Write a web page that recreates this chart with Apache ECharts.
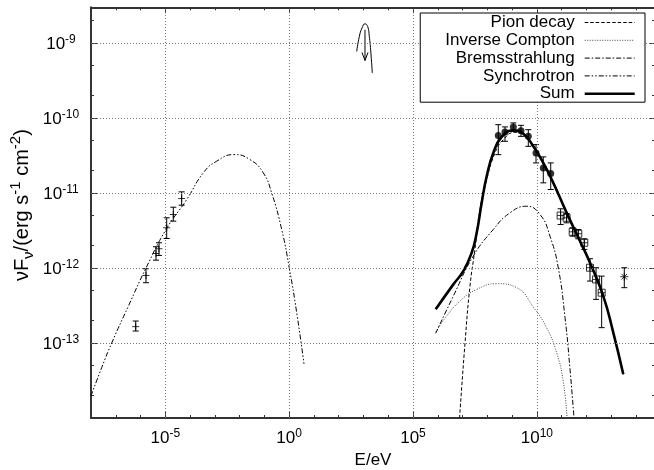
<!DOCTYPE html>
<html><head><meta charset="utf-8">
<script src="https://cdn.jsdelivr.net/npm/echarts@6/dist/echarts.min.js"></script>
<style>html,body{margin:0;padding:0;background:#fff}#c{width:654px;height:470px}</style>
</head><body><div id="c"></div>
<script>
// All values are log10 (E in eV, nuFnu in erg s^-1 cm^-2)
var synLogE = [-8.0, -7.568, -7.164, -6.49, -5.78, -4.97, -4.136, -3.466, -2.93, -2.227, -1.581, -1.044, -0.705, -0.301, 0.006, 0.305, 0.6];
var synLogF = [-13.706, -13.328, -13.0, -12.507, -12.0, -11.486, -11.087, -10.731, -10.576, -10.487, -10.554, -10.731, -11.0, -11.486, -12.0, -12.595, -13.28];

var sumLogE = [5.916, 6.628, 7.03, 7.369, 7.571, 7.773, 7.975, 8.241, 8.58, 9.05, 9.453, 9.857, 10.26, 10.664, 11.205, 11.742, 12.145, 12.683, 13.086, 13.49];
var sumLogF = [-12.551, -12.218, -12.041, -11.796, -11.53, -11.13, -10.776, -10.465, -10.252, -10.164, -10.208, -10.377, -10.598, -10.864, -11.264, -11.642, -11.929, -12.374, -12.861, -13.417];

var pionLogE = [6.88, 7.1, 7.3, 7.5, 7.705, 7.975, 8.31, 8.645, 9.118, 9.453, 9.857, 10.26, 10.664, 11.205, 11.742, 12.145, 12.683, 13.086, 13.49];
var pionLogF = [-14.0, -13.0, -12.24, -11.75, -11.22, -10.82, -10.465, -10.288, -10.19, -10.225, -10.39, -10.61, -10.874, -11.27, -11.645, -11.93, -12.375, -12.862, -13.418];

var icLogE = [5.916, 6.36, 6.897, 7.571, 8.38, 9.186, 9.857, 10.4, 10.8, 11.07, 11.22];
var icLogF = [-12.853, -12.64, -12.44, -12.285, -12.209, -12.262, -12.52, -12.8, -13.13, -13.52, -14.0];

var bremLogE = [5.916, 6.628, 7.435, 8.241, 8.915, 9.585, 10.127, 10.53, 10.866, 11.137, 11.339, 11.5];
var bremLogF = [-12.871, -12.374, -11.84, -11.486, -11.264, -11.176, -11.286, -11.575, -12.0, -12.66, -13.35, -14.0];

// upper-limit bow (curve) and downward arrow
var bowLogE = [2.727, 2.833, 2.94, 3.062, 3.17, 3.236, 3.29, 3.357];
var bowLogF = [-9.112, -8.912, -8.8, -8.743, -8.779, -8.912, -9.09, -9.4];
var arrowLogE = [3.062];
var arrowTopLogF = [-8.823];
var arrowTipLogF = [-9.232];

// measured points: value, lower, upper
var radioLogE = [-6.195, -5.78, -5.376, -5.255, -4.944, -4.677, -4.34];
var radioLogF = [-12.782, -12.099, -11.806, -11.743, -11.463, -11.286, -11.073];
var radioLo   = [-12.84, -12.196, -11.895, -11.832, -11.606, -11.375, -11.162];
var radioHi   = [-12.707, -12.009, -11.716, -11.663, -11.33, -11.189, -10.984];

var fermiLogE = [8.443, 8.713, 9.05, 9.36, 9.655, 9.966, 10.26, 10.56];
var fermiLogF = [-10.234, -10.185, -10.118, -10.168, -10.244, -10.465, -10.665, -10.74];
var fermiLo   = [-10.488, -10.31, -10.177, -10.244, -10.377, -10.598, -10.864, -10.953];
var fermiHi   = [-10.088, -10.118, -10.065, -10.097, -10.155, -10.354, -10.518, -10.598];

var hessLogE = [10.96, 11.2, 11.447, 11.673, 11.915, 12.145, 12.39, 12.617];
var hessLogF = [-11.3, -11.33, -11.517, -11.543, -11.663, -11.996, -12.152, -12.329];
var hessLo   = [-11.42, -11.397, -11.575, -11.61, -11.752, -12.174, -12.418, -12.795];
var hessHi   = [-11.21, -11.273, -11.463, -11.486, -11.61, -11.876, -11.996, -12.108];

var starLogE = [13.53];
var starLogF = [-12.116];
var starLo   = [-12.262];
var starHi   = [-11.996];

// axes (log10 units)
var xRange = [-8, 14.77];
var yRange = [-14, Math.log10(3e-9)];
var xMajorTicks = [-5, 0, 5, 10];
var xMinorTicks = [-7, -6, -5, -4, -3, -2, -1, 0, 1, 2, 3, 4, 5, 6, 7, 8, 9, 10, 11, 12, 13, 14];
var yMajorTicks = [-13, -12, -11, -10, -9];
var yMinorTickValues = [2e-14, 5e-14, 2e-13, 5e-13, 2e-12, 5e-12, 2e-11, 5e-11, 2e-10, 5e-10, 2e-9];
var yMinorTicks = yMinorTickValues.map(function (v) { return Math.log10(v); });

var legendNames = ['Pion decay', 'Inverse Compton', 'Bremsstrahlung', 'Synchrotron', 'Sum'];

var FONT = 'Liberation Sans';
function zip(a, b) { return a.map(function (v, i) { return [v, b[i]]; }); }
function zip3(a, b, c) { return a.map(function (v, i) { return [v, b[i], c[i]]; }); }

var richLab = {
  b: { fontSize: 17, fontFamily: FONT, color: '#000', verticalAlign: 'bottom' },
  s: { fontSize: 12, fontFamily: FONT, color: '#000', verticalAlign: 'bottom', padding: [0, 0, 7, 0] }
};
function powLabel(v) { return '{b|10}{s|' + Math.round(v) + '}'; }

var axisLineStyle = { color: '#333', width: 2 };
var tickStyle = { color: '#333', width: 1 };

function xAx(pos, major, withLabels, withLine) {
  return {
    type: 'value', min: xRange[0], max: xRange[1], position: pos, gridIndex: 0,
    axisLine: { show: withLine, onZero: false, lineStyle: axisLineStyle },
    axisTick: { show: true, inside: true, length: major ? 6 : 3, lineStyle: tickStyle,
                customValues: major ? xMajorTicks : xMinorTicks },
    axisLabel: withLabels ? { show: true, customValues: xMajorTicks, formatter: powLabel, rich: richLab, margin: 10 } : { show: false },
    splitLine: { show: false }
  };
}
function yAx(pos, major, withLabels, withLine) {
  return {
    type: 'value', min: yRange[0], max: yRange[1], position: pos, gridIndex: 0,
    axisLine: { show: withLine, onZero: false, lineStyle: axisLineStyle },
    axisTick: { show: true, inside: true, length: major ? 6 : 3, lineStyle: tickStyle,
                customValues: major ? yMajorTicks : yMinorTicks },
    axisLabel: withLabels ? { show: true, customValues: yMajorTicks, formatter: powLabel, rich: richLab, margin: 30, align: 'center' } : { show: false },
    splitLine: { show: false }
  };
}

var xAxes = [xAx('bottom', false, false, true), xAx('bottom', true, true, false), xAx('top', false, false, true), xAx('top', true, false, false)];
xAxes[0].name = 'E/eV';
xAxes[0].nameLocation = 'middle';
xAxes[0].nameGap = 34;
xAxes[0].nameTextStyle = { fontSize: 17, fontFamily: FONT, color: '#000' };

var yAxes = [yAx('left', false, false, true), yAx('left', true, true, false), yAx('right', false, false, true), yAx('right', true, false, false)];
yAxes[0].name = '{a|\u03bdF}{sub|\u03bd}{a|/(erg s}{sup|-1}{a| cm}{sup|-2}{a|)}';
yAxes[0].nameLocation = 'middle';
yAxes[0].nameGap = 55;
yAxes[0].nameTextStyle = {
  padding: [0, 0, 0, 15],
  rich: {
    a: { fontSize: 20, fontFamily: FONT, color: '#000', verticalAlign: 'bottom', padding: [0, 0, 4, 0] },
    sub: { fontSize: 15, fontFamily: FONT, color: '#000', verticalAlign: 'bottom' },
    sup: { fontSize: 15, fontFamily: FONT, color: '#000', verticalAlign: 'bottom', padding: [0, 0, 13, 0] }
  }
};

var gridLines = [];
xMajorTicks.forEach(function (v) { gridLines.push({ xAxis: v }); });
yMajorTicks.forEach(function (v) { gridLines.push({ yAxis: v }); });

var blk = { stroke: '#000', lineWidth: 1 };
function errRender(params, api) {
  var x = api.value(0), lo = api.value(1), hi = api.value(2);
  var p1 = api.coord([x, lo]), p2 = api.coord([x, hi]);
  var c = 3;
  return { type: 'group', children: [
    { type: 'line', shape: { x1: p1[0], y1: p1[1], x2: p2[0], y2: p2[1] }, style: blk },
    { type: 'line', shape: { x1: p1[0] - c, y1: p1[1], x2: p1[0] + c, y2: p1[1] }, style: blk },
    { type: 'line', shape: { x1: p2[0] - c, y1: p2[1], x2: p2[0] + c, y2: p2[1] }, style: blk }
  ] };
}
function arrowRender(params, api) {
  var x = api.value(0);
  var p1 = api.coord([x, api.value(1)]), p2 = api.coord([x, api.value(2)]);
  return { type: 'group', children: [
    { type: 'line', shape: { x1: p1[0], y1: p1[1], x2: p2[0], y2: p2[1] }, style: blk },
    { type: 'polyline', shape: { points: [[p2[0] - 3, p2[1] - 8], [p2[0], p2[1]], [p2[0] + 3, p2[1] - 8]] }, style: { stroke: '#000', lineWidth: 1, fill: null } }
  ] };
}
var errData = [].concat(zip3(radioLogE, radioLo, radioHi), zip3(fermiLogE, fermiLo, fermiHi),
                        zip3(hessLogE, hessLo, hessHi), zip3(starLogE, starLo, starHi));

function curve(name, e, f, type, width, color) {
  return { name: name, type: 'line', data: zip(e, f), symbol: 'none', showSymbol: false,
           smooth: 0.5, silent: true, z: 3,
           lineStyle: { color: color || '#000', width: width, type: type } };
}

var series = [
  curve('Pion decay', pionLogE, pionLogF, [3.5, 2], 1),
  curve('Inverse Compton', icLogE, icLogF, [1, 1.5], 1, '#444'),
  curve('Bremsstrahlung', bremLogE, bremLogF, [5, 2, 1.5, 2], 1),
  curve('Synchrotron', synLogE, synLogF, [5, 2, 1.5, 2, 1.5, 2], 1),
  curve('Sum', sumLogE, sumLogF, 'solid', 2.6)
];
series[3].markLine = { silent: true, symbol: 'none', animation: false, label: { show: false },
  lineStyle: { color: '#777', width: 1, type: [1, 2] }, emphasis: { disabled: true }, data: gridLines };
series.push({ type: 'line', data: zip(bowLogE, bowLogF), symbol: 'none', smooth: 0.5, silent: true,
  lineStyle: { color: '#000', width: 1 } });
series.push({ type: 'custom', renderItem: arrowRender, data: zip3(arrowLogE, arrowTopLogF, arrowTipLogF), silent: true, z: 4, encode: { x: 0, y: [1, 2] } });
series.push({ type: 'custom', renderItem: errRender, data: errData, silent: true, z: 4, encode: { x: 0, y: [1, 2] } });
series.push({ type: 'scatter', data: zip(radioLogE, radioLogF), symbol: 'path://M0,5L10,5M5,0L5,10', symbolSize: 7, silent: true, z: 5,
  itemStyle: { color: 'none', borderColor: '#000', borderWidth: 1 } });
series.push({ type: 'scatter', data: zip(fermiLogE, fermiLogF), symbol: 'circle', symbolSize: 7, silent: true, z: 5,
  itemStyle: { color: '#000' } });
series.push({ type: 'scatter', data: zip(hessLogE, hessLogF), symbol: 'path://M0,0L10,0L10,10L0,10ZM0,5L10,5M5,0L5,10', symbolSize: 7, silent: true, z: 5,
  itemStyle: { color: 'none', borderColor: '#000', borderWidth: 1 } });
series.push({ type: 'scatter', data: zip(starLogE, starLogF), symbol: 'path://M5,0L5,10M0,5L10,5M1.5,1.5L8.5,8.5M8.5,1.5L1.5,8.5', symbolSize: 8, silent: true, z: 5,
  itemStyle: { color: 'none', borderColor: '#000', borderWidth: 1 } });

var chart = echarts.init(document.getElementById('c'), null, { renderer: 'canvas' });
chart.setOption({
  animation: false,
  backgroundColor: '#fff',
  textStyle: { fontFamily: FONT },
  grid: { left: 91, top: 7.3, width: 564, height: 410.7, containLabel: false, outerBoundsMode: 'none' },
  legend: {
    data: legendNames, orient: 'vertical', align: 'right', right: 9, top: 13,
    itemWidth: 50, itemHeight: 12, itemGap: 0.8, padding: [1, 9, 0, 25],
    backgroundColor: '#fff', borderColor: '#000', borderWidth: 1, borderRadius: 0,
    selectedMode: false, z: 10,
    textStyle: { fontSize: 17, fontFamily: FONT, color: '#000', padding: [0, 5, 0, 0] },
    lineStyle: { width: 'inherit' },
    itemStyle: { opacity: 0 }
  },
  xAxis: xAxes,
  yAxis: yAxes,
  series: series
});
</script></body></html>
